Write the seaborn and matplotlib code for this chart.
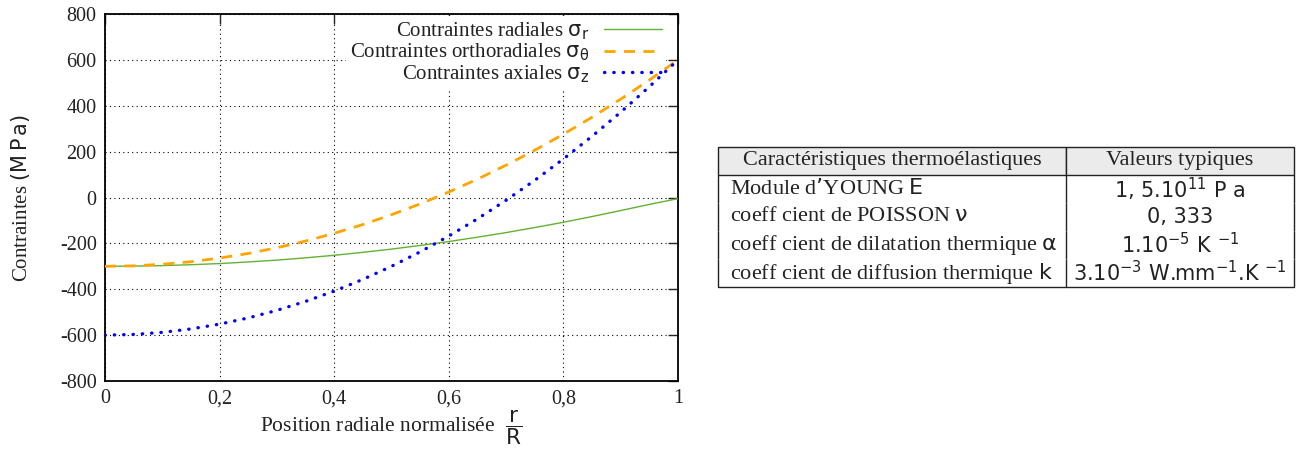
import numpy as np
import pandas as pd
import seaborn as sns
import matplotlib.pyplot as plt
from matplotlib.table import Table

# valeurs (r/R de 0 a 1)
r = [0.0, 0.05, 0.1, 0.15, 0.2, 0.25, 0.3, 0.35, 0.4, 0.45, 0.5,
     0.55, 0.6, 0.65, 0.7, 0.75, 0.8, 0.85, 0.9, 0.95, 1.0]
sigma_r = [-300, -299, -297, -293, -288, -281, -273, -263, -252, -239, -225,
           -209, -192, -173, -153, -131, -108, -83, -57, -30, -5]
sigma_theta = [-300, -298, -291, -280, -264, -244, -219, -190, -156, -118, -75,
               -28, 24, 80, 141, 206, 276, 350, 429, 512, 600]
sigma_z = [-600, -597, -588, -573, -552, -525, -492, -453, -408, -357, -300,
           -237, -168, -93, -12, 75, 168, 267, 372, 483, 600]

x_ticks = [0, 0.2, 0.4, 0.6, 0.8, 1]
x_labels = ["0", "0,2", "0,4", "0,6", "0,8", "1"]
y_ticks = [-800, -600, -400, -200, 0, 200, 400, 600, 800]

legend_labels = [r"Contraintes radiales $\mathrm{\sigma}_\mathrm{r}$",
                 r"Contraintes orthoradiales $\mathrm{\sigma}_\mathrm{\theta}$",
                 r"Contraintes axiales $\mathrm{\sigma}_\mathrm{z}$"]

table_header = ["Caractéristiques thermoélastiques", "Valeurs typiques"]
table_names = [r"Module d’YOUNG $\mathrm{E}$",
               r"coeff cient de POISSON $\mathrm{\nu}$",
               r"coeff cient de dilatation thermique $\mathrm{\alpha}$",
               r"coeff cient de diffusion thermique $\mathrm{k}$"]
table_values = [r"1, 5.10$^{11}$ P a",
                r"0, 333",
                r"1.10$^{-5}$ K $^{-1}$",
                r"3.10$^{-3}$ W.mm$^{-1}$.K $^{-1}$"]

df = pd.DataFrame({"r": r, "sr": sigma_r, "st": sigma_theta, "sz": sigma_z})

sns.set_theme(style="white")
plt.rcParams['font.family'] = ['Liberation Serif', 'DejaVu Sans']
plt.rcParams['mathtext.fontset'] = 'dejavusans'

fig = plt.figure(figsize=(12.96, 4.51), dpi=100)
ax = fig.add_axes([105 / 1296, 1 - 381 / 451, 573 / 1296, 367 / 451])

sns.lineplot(data=df, x="r", y="sr", ax=ax, color="#62b232", lw=1.0,
             label=legend_labels[0], zorder=3)
sns.lineplot(data=df, x="r", y="st", ax=ax, color="#ffa500", lw=2.0,
             linestyle=(0, (4, 3)), label=legend_labels[1], zorder=3)
sns.lineplot(data=df, x="r", y="sz", ax=ax, color="#0000ff", lw=2.4,
             linestyle=(0, (0.1, 2.7)), dash_capstyle="round",
             label=legend_labels[2], zorder=3)

ax.set_xlim(0, 1)
ax.set_ylim(-800, 800)
ax.set_xticks(x_ticks)
ax.set_xticklabels(x_labels)
ax.set_yticks(y_ticks)
ax.set_yticklabels([str(v) for v in y_ticks])
ax.tick_params(direction="in", top=True, right=True, length=7, width=1,
               labelsize=14.5, labelcolor="#222222", pad=6)
ax.grid(True, color="black", linestyle=(0, (1, 3)), linewidth=0.8)
for s in ax.spines.values():
    s.set_color("black")
    s.set_linewidth(1.3)

ax.set_xlabel(r"Position radiale normalisée $\;\dfrac{\mathrm{r}}{\mathrm{R}}$",
              fontsize=15.5, color="#222222", labelpad=0)
ax.set_ylabel(r"Contraintes $(\mathrm{M\,P\,a})$", fontsize=15, color="#222222",
              labelpad=20)

leg = ax.legend(loc="upper right", bbox_to_anchor=(0.983, 1.0), markerfirst=False,
                frameon=True, framealpha=1, edgecolor="none", facecolor="white",
                fontsize=15, handlelength=2.8, handletextpad=0.7,
                labelspacing=0.0, borderpad=0.2, borderaxespad=0.1)
leg.set_zorder(1)
for t in leg.get_texts():
    t.set_color("#222222")

# tableau des caracteristiques
tax = fig.add_axes([718 / 1296, 1 - 287 / 451, 576 / 1296, 140 / 451])
tax.axis("off")
tbl = Table(tax)
widths = [348 / 576, 228 / 576]
rows = [table_header] + [[a, b] for a, b in zip(table_names, table_values)]
for i, row in enumerate(rows):
    for j, txt in enumerate(row):
        loc = "left" if (i > 0 and j == 0) else "center"
        c = tbl.add_cell(i, j, width=widths[j], height=0.2, text=txt, loc=loc,
                         facecolor="#ebebeb" if i == 0 else "white",
                         edgecolor="#222222")
        c.PAD = 12 / 348 if j == 0 else 0.02
        c.set_linewidth(1.0)
        if i == 0:
            c.visible_edges = "closed"
        else:
            e = "LR" if j == 0 else "R"
            if i == len(rows) - 1:
                e += "B"
            c.visible_edges = e
        c.get_text().set_color("#222222")
tbl.auto_set_font_size(False)
tbl.set_fontsize(16)
for i in range(1, len(rows)):
    t = tbl[i, 1].get_text()
    t.set_fontfamily("DejaVu Sans")
    t.set_fontsize(15)
tax.add_table(tbl)

plt.savefig("out.png", dpi=100)
